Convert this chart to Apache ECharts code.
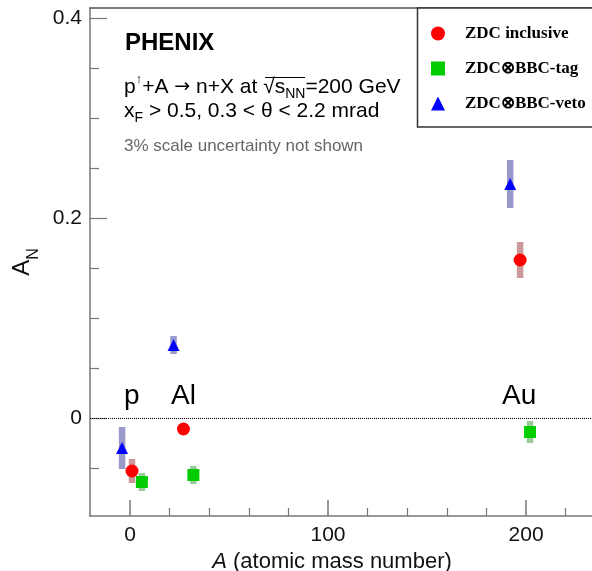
<!DOCTYPE html>
<html>
<head>
<meta charset="utf-8">
<script src="https://cdn.jsdelivr.net/npm/echarts@6/dist/echarts.min.js"></script>
<style>
  html, body { margin: 0; padding: 0; background: #fff; }
  #chart { width: 592px; height: 571px; }
</style>
</head>
<body>
<div id="chart"></div>
<script>
// atomic mass numbers (p, Al, Au), points are shifted a bit per selection like in the paper
var nuclei = ['p', 'Al', 'Au'];
var xInclusive = [1, 27, 197];
var xTag = [6, 32, 202];
var xVeto = [-4, 22, 192];

// A_N values and uncertainties
var anInclusive = [-0.053, -0.011, 0.158];
var errInclusive = [0.012, 0.004, 0.018];
var anTag = [-0.064, -0.057, -0.014];
var errTag = [0.009, 0.009, 0.011];
var anVeto = [-0.030, 0.073, 0.234];
var errVeto = [0.021, 0.009, 0.024];

// ticks
var xMajor = [0, 100, 200];
var xMinor = [20, 40, 60, 80, 120, 140, 160, 180, 220];
var yMajor = [0, 0.2, 0.4];
var yMinor = [-0.05, 0.05, 0.1, 0.15, 0.25, 0.3, 0.35];

var font = '"Liberation Sans", Arial, sans-serif';
var serif = '"Liberation Serif", "Times New Roman", serif';
var axisGray = '#777';

function zip(xs, ys, es) {
    var out = [];
    for (var i = 0; i < xs.length; i++) out.push([xs[i], ys[i], es ? es[i] : 0]);
    return out;
}

function errBar(color) {
    return function (params, api) {
        var x = api.value(0), y = api.value(1), e = api.value(2);
        var top = api.coord([x, y + e]);
        var bot = api.coord([x, y - e]);
        return {
            type: 'rect',
            shape: { x: top[0] - 3.25, y: top[1], width: 6.5, height: bot[1] - top[1] },
            style: { fill: color }
        };
    };
}

var myChart = echarts.init(document.getElementById('chart'));

myChart.setOption({
    animation: false,
    backgroundColor: '#fff',
    grid: { left: 90, right: 0, top: 8, bottom: 55, outerBoundsMode: 'none' },
    xAxis: [{
        type: 'value', min: -20.2, max: 233.3, position: 'bottom',
        axisLine: { onZero: false, lineStyle: { color: axisGray, width: 1.5 } },
        axisTick: { inside: true, length: 16, customValues: xMajor, lineStyle: { color: axisGray, width: 1.5 } },
        axisLabel: { customValues: xMajor, fontFamily: font, fontSize: 21, color: '#111', margin: 9 },
        splitLine: { show: false },
        name: '{i|A} (atomic mass number)',
        nameLocation: 'middle',
        nameGap: 34,
        nameTextStyle: {
            fontFamily: font, fontSize: 22, color: '#111', padding: [0, 18, 0, 0],
            rich: { i: { fontFamily: font, fontSize: 22, fontStyle: 'italic', color: '#111' } }
        }
    }, {
        type: 'value', min: -20.2, max: 233.3, position: 'bottom',
        axisLine: { show: false, onZero: false },
        axisTick: { inside: true, length: 8, customValues: xMinor, lineStyle: { color: axisGray, width: 1.2 } },
        axisLabel: { show: false },
        splitLine: { show: false }
    }, {
        type: 'value', min: -20.2, max: 233.3, position: 'top',
        axisLine: { onZero: false, lineStyle: { color: '#555', width: 1.5 } },
        axisTick: { show: false },
        axisLabel: { show: false },
        splitLine: { show: false }
    }],
    yAxis: [{
        type: 'value', min: -0.098, max: 0.41, position: 'left',
        axisLine: { show: true, onZero: false, lineStyle: { color: axisGray, width: 1.5 } },
        axisTick: { show: true, inside: true, length: 17, customValues: yMajor, lineStyle: { color: axisGray, width: 1.2 } },
        axisLabel: {
            customValues: yMajor, fontFamily: font, fontSize: 21, color: '#111', margin: 8,
            formatter: function (v) { return v === 0 ? '0' : String(v); }
        },
        splitLine: { show: false },
        name: '{a|A}{s|N}',
        nameLocation: 'middle',
        nameRotate: 90,
        nameGap: 39,
        nameTextStyle: {
            rich: {
                a: { fontFamily: font, fontSize: 24, color: '#111', lineHeight: 32, verticalAlign: 'top' },
                s: { fontFamily: font, fontSize: 16, color: '#111', lineHeight: 16, verticalAlign: 'bottom' }
            }
        }
    }, {
        type: 'value', min: -0.098, max: 0.41, position: 'left',
        axisLine: { show: false, onZero: false },
        axisTick: { show: true, inside: true, length: 9, customValues: yMinor, lineStyle: { color: axisGray, width: 1.2 } },
        axisLabel: { show: false },
        splitLine: { show: false }
    }],
    legend: {
        orient: 'vertical',
        left: 431,
        top: 25,
        padding: 0,
        z: 10,
        data: ['ZDC inclusive', 'ZDC\u2297BBC-tag', 'ZDC\u2297BBC-veto'],
        itemWidth: 14,
        itemHeight: 14,
        itemGap: 18,
        textStyle: { fontFamily: serif, fontWeight: 'bold', fontSize: 17, color: '#000', lineHeight: 14, padding: [0, 0, 0, 15] }
    },
    graphic: [
        {
            type: 'rect', z: 5,
            shape: { x: 417.5, y: 8, width: 200, height: 119 },
            style: { fill: '#fff', stroke: '#333', lineWidth: 1.5 }
        },
        {
            type: 'text', x: 125, y: 43,
            style: { text: 'PHENIX', font: 'bold 24px ' + font, fill: '#000', verticalAlign: 'middle' }
        },
        {
            type: 'text', x: 124, y: 87,
            style: {
                text: '{n|p}{sup|\u2191}{n|+A }{ar|\u2192}{n| n+X at \u221A}{n|s}{sub|NN}{n|=200 GeV}',
                verticalAlign: 'middle',
                rich: {
                    n: { fontFamily: font, fontSize: 21, color: '#000', lineHeight: 28 },
                    ar: { fontFamily: '"DejaVu Sans"', fontSize: 19, color: '#000', lineHeight: 28 },
                    sup: { fontFamily: font, fontSize: 13, color: '#000', lineHeight: 13, verticalAlign: 'top' },
                    sub: { fontFamily: font, fontSize: 14, color: '#000', lineHeight: 14, verticalAlign: 'bottom' }
                }
            }
        },
        {
            // overline of the square root
            type: 'line', z: 4,
            shape: { x1: 265, y1: 77.5, x2: 305, y2: 77.5 },
            style: { stroke: '#000', lineWidth: 1.2 }
        },
        {
            type: 'text', x: 124, y: 111,
            style: {
                text: '{n|x}{sub|F}{n| > 0.5, 0.3 < \u03B8 < 2.2 mrad}',
                verticalAlign: 'middle',
                rich: {
                    n: { fontFamily: font, fontSize: 21, color: '#000', lineHeight: 28 },
                    sub: { fontFamily: font, fontSize: 14, color: '#000', lineHeight: 14, verticalAlign: 'bottom' }
                }
            }
        },
        {
            type: 'text', x: 124, y: 146,
            style: { text: '3% scale uncertainty not shown', font: '17px ' + font, fill: '#666', verticalAlign: 'middle' }
        },
        {
            type: 'text', x: 124, y: 396,
            style: { text: nuclei[0], font: '28px ' + font, fill: '#000', verticalAlign: 'middle' }
        },
        {
            type: 'text', x: 171, y: 396,
            style: { text: nuclei[1], font: '28px ' + font, fill: '#000', verticalAlign: 'middle' }
        },
        {
            type: 'text', x: 502, y: 396,
            style: { text: nuclei[2], font: '28px ' + font, fill: '#000', verticalAlign: 'middle' }
        }
    ],
    series: [
        {
            name: 'inclusive err', type: 'custom', z: 1,
            renderItem: errBar('#cc9999'),
            data: zip(xInclusive, anInclusive, errInclusive),
            markLine: {
                silent: true, symbol: 'none', label: { show: false },
                lineStyle: { color: '#000', type: 'dotted', width: 1 },
                data: [{ yAxis: 0 }]
            }
        },
        { name: 'tag err', type: 'custom', z: 1, renderItem: errBar('#99cc99'), data: zip(xTag, anTag, errTag) },
        { name: 'veto err', type: 'custom', z: 1, renderItem: errBar('#9999cc'), data: zip(xVeto, anVeto, errVeto) },
        {
            name: 'ZDC inclusive', type: 'scatter', z: 3,
            symbol: 'circle', symbolSize: 13,
            itemStyle: { color: '#ff0000', opacity: 1 },
            data: zip(xInclusive, anInclusive)
        },
        {
            name: 'ZDC\u2297BBC-tag', type: 'scatter', z: 3,
            symbol: 'rect', symbolSize: 12,
            itemStyle: { color: '#00cc00', opacity: 1 },
            data: zip(xTag, anTag)
        },
        {
            name: 'ZDC\u2297BBC-veto', type: 'scatter', z: 3,
            symbol: 'triangle', symbolSize: 12,
            itemStyle: { color: '#0000ff', opacity: 1 },
            data: zip(xVeto, anVeto)
        }
    ]
});
</script>
</body>
</html>
